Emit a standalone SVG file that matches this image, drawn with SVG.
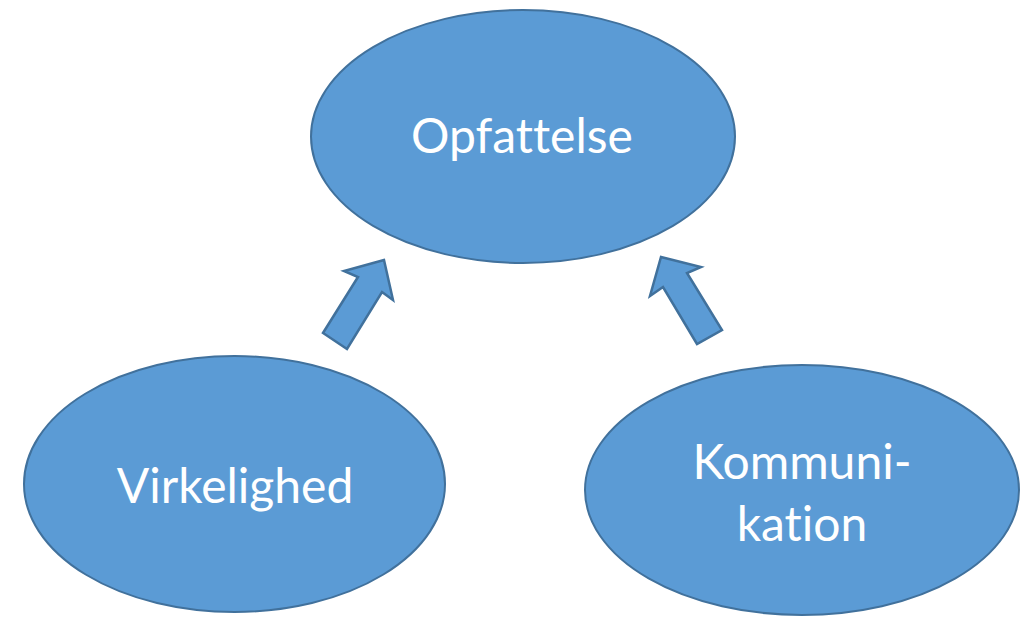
<svg xmlns="http://www.w3.org/2000/svg" width="1030" height="618" viewBox="0 0 1030 618">
  <style>
    .node { fill: #5B9BD5; stroke: #41719C; stroke-width: 2; }
    .arrow { fill: #5B9BD5; stroke: #41719C; stroke-width: 2.5; stroke-linejoin: miter; }
    .label { fill: #FFFFFF; font-family: Lato, "Open Sans", "Liberation Sans", sans-serif; font-size: 48px; text-anchor: middle; font-variant-ligatures: none; }
  </style>
  <rect width="1030" height="618" fill="#FFFFFF"/>
  <g id="connectors">
    <polygon class="arrow" points="384,260 344,271 358,277 323,333 347,349 382,292 393,300"/>
    <polygon class="arrow" points="661,257 701,267 687,273 722,330 697,344 663,287 650,296"/>
  </g>
  <g id="opfattelse">
    <ellipse class="node" cx="523" cy="136.5" rx="212" ry="126.5"/>
    <text class="label" x="522" y="153">Opfattelse</text>
  </g>
  <g id="virkelighed">
    <ellipse class="node" cx="234.5" cy="484" rx="210.5" ry="128"/>
    <text class="label" x="235" y="503">Virkelighed</text>
  </g>
  <g id="kommunikation">
    <ellipse class="node" cx="802" cy="490" rx="217" ry="125"/>
    <text class="label" x="802" y="479">Kommuni-</text>
    <text class="label" x="802" y="541">kation</text>
  </g>
</svg>
